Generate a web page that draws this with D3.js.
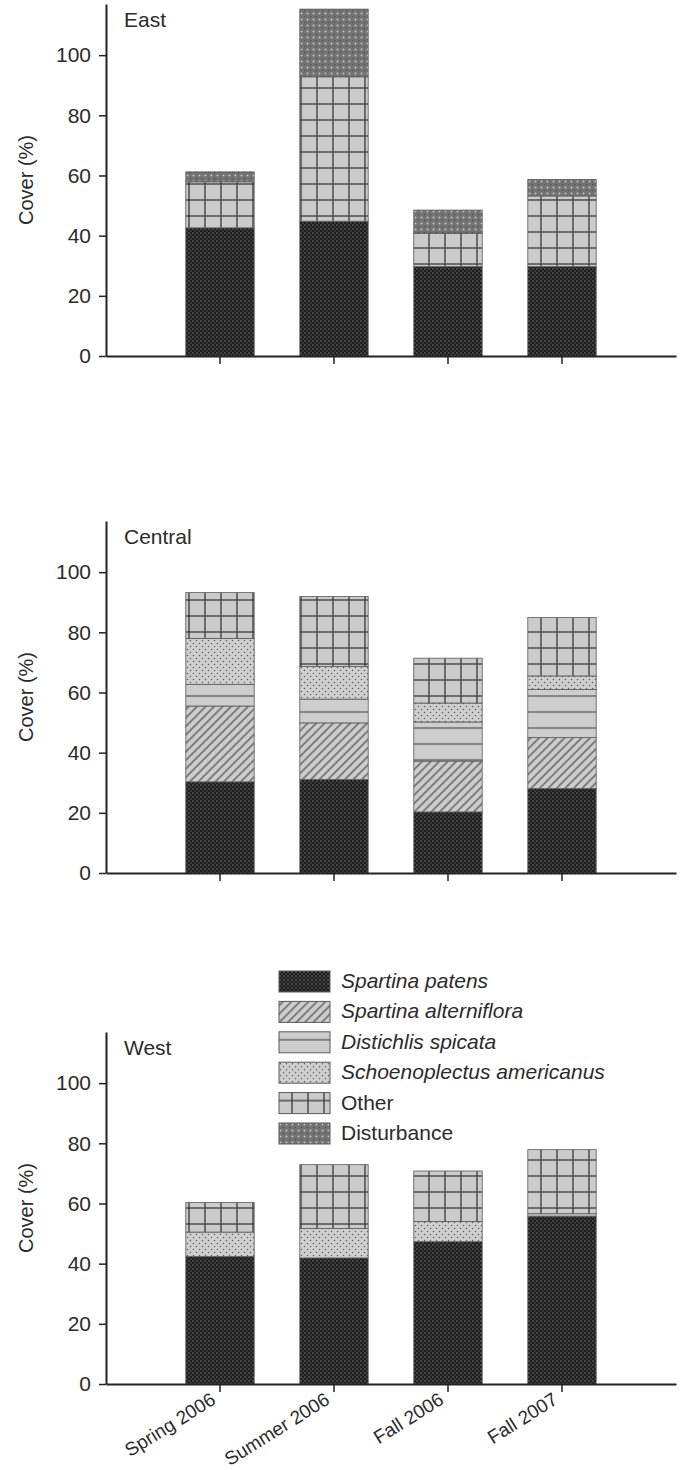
<!DOCTYPE html>
<html>
<head>
<meta charset="utf-8">
<script src="https://cdnjs.cloudflare.com/ajax/libs/d3/7.8.5/d3.min.js"></script>
<style>
  body { margin: 0; background: #fff; }
  text { font-family: "Liberation Sans Narrow", "Liberation Sans", Arial, sans-serif; fill: #2b2b2b; }
</style>
</head>
<body>
<div id="chart"></div>
<script>
// # Categories
const seasons = ['Spring 2006', 'Summer 2006', 'Fall 2006', 'Fall 2007']
const species = ['Spartina patens', 'Spartina alterniflora', 'Distichlis spicata',
                 'Schoenoplectus americanus', 'Other', 'Disturbance']
const italicSpecies = [true, true, true, true, false, false]
const yTicks = [0, 20, 40, 60, 80, 100]

// # Cover (%) per species (rows, same order as species) and season (columns).
const eastCover = [
    [42.6, 44.8, 29.7, 29.7],
    [0, 0, 0, 0],
    [0, 0, 0, 0],
    [0, 0, 0, 0],
    [15.3, 48.0, 11.1, 23.5],
    [3.3, 22.5, 7.7, 5.5]
]
const centralCover = [
    [30.3, 31.1, 20.3, 28.1],
    [25.2, 18.8, 16.9, 16.9],
    [7.2, 7.9, 13.0, 16.0],
    [15.3, 10.8, 6.3, 4.5],
    [15.2, 23.3, 14.9, 19.4],
    [0, 0, 0, 0]
]
const westCover = [
    [42.4, 41.9, 47.3, 55.8],
    [0, 0, 0, 0],
    [0, 0, 0, 0],
    [8.1, 9.8, 6.7, 0.8],
    [9.8, 21.2, 16.8, 21.3],
    [0, 0, 0, 0]
]

// # Panel settings
const width = 683
const height = 1470
const axisLeft = 106
const axisRight = 676
const yMax = 117
const panelHeight = 352
const panels = [
    {name: 'East', cover: eastCover, base: 356, labels: false},
    {name: 'Central', cover: centralCover, base: 873, labels: false},
    {name: 'West', cover: westCover, base: 1384, labels: true}
]
const fontSize = 21

const svg = d3.select('#chart')
    .append('svg')
    .attr('width', width)
    .attr('height', height)

// # Fill patterns, one per species.
const defs = svg.append('defs')
const patternIds = ['p-patens', 'p-alt', 'p-dist', 'p-schoeno', 'p-other', 'p-dist2']

const makePattern = (id, w, h) => defs.append('pattern')
    .attr('id', id)
    .attr('patternUnits', 'userSpaceOnUse')
    .attr('width', w)
    .attr('height', h)

let p = makePattern('p-patens', 4, 4)
p.append('rect').attr('width', 4).attr('height', 4).attr('fill', '#1d1d1d')
p.append('circle').attr('cx', 1).attr('cy', 1).attr('r', 0.7).attr('fill', '#8c8c8c')
p.append('circle').attr('cx', 3).attr('cy', 3).attr('r', 0.7).attr('fill', '#6a6a6a')

p = makePattern('p-alt', 6, 6).attr('patternTransform', 'rotate(45)')
p.append('rect').attr('width', 6).attr('height', 6).attr('fill', '#cdcdcd')
p.append('line').attr('x1', 3).attr('x2', 3).attr('y1', 0).attr('y2', 6)
    .attr('stroke', '#3c3c3c').attr('stroke-width', 1.1)

p = makePattern('p-dist', 10, 16)
p.append('rect').attr('width', 10).attr('height', 16).attr('fill', '#cdcdcd')
p.append('line').attr('x1', 0).attr('x2', 10).attr('y1', 8).attr('y2', 8)
    .attr('stroke', '#555').attr('stroke-width', 1.2)

p = makePattern('p-schoeno', 6, 6)
p.append('rect').attr('width', 6).attr('height', 6).attr('fill', '#cfcfcf')
p.append('circle').attr('cx', 1.5).attr('cy', 1.5).attr('r', 0.75).attr('fill', '#5a5a5a')
p.append('circle').attr('cx', 4.5).attr('cy', 4.5).attr('r', 0.75).attr('fill', '#5a5a5a')

p = makePattern('p-other', 16, 16)
p.append('rect').attr('width', 16).attr('height', 16).attr('fill', '#cbcbcb')
p.append('line').attr('x1', 13).attr('x2', 13).attr('y1', 0).attr('y2', 16)
    .attr('stroke', '#383838').attr('stroke-width', 1.3)
p.append('line').attr('x1', 0).attr('x2', 16).attr('y1', 8).attr('y2', 8)
    .attr('stroke', '#383838').attr('stroke-width', 1.3)

p = makePattern('p-dist2', 6, 6)
p.append('rect').attr('width', 6).attr('height', 6).attr('fill', '#737373')
p.append('circle').attr('cx', 1.5).attr('cy', 1.5).attr('r', 1).attr('fill', '#c4c4c4')
p.append('circle').attr('cx', 4.5).attr('cy', 4.5).attr('r', 0.7).attr('fill', '#4c4c4c')

// # Shared x scale.
const x = d3.scaleBand()
    .domain(seasons)
    .range([axisLeft, axisRight])
    .paddingInner(0.4)
    .paddingOuter(0.7)

// # Draws one site panel.
const drawPanel = (panel) => {
    const y = d3.scaleLinear()
        .domain([0, yMax])
        .range([panel.base, panel.base - panelHeight])

    const rows = seasons.map((s, j) => {
        const row = {season: s}
        species.forEach((sp, i) => { row[sp] = panel.cover[i][j] })
        return row
    })
    const stacked = d3.stack().keys(species)(rows)

    const g = svg.append('g').attr('class', 'panel')

    stacked.forEach((layer, i) => {
        g.append('g')
            .selectAll('rect')
            .data(layer.filter(d => d[1] - d[0] > 0))
            .enter().append('rect')
            .attr('x', d => x(d.data.season))
            .attr('width', x.bandwidth())
            .attr('y', d => y(d[1]))
            .attr('height', d => y(d[0]) - y(d[1]))
            .attr('fill', 'url(#' + patternIds[i] + ')')
            .attr('stroke', '#5a5a5a')
            .attr('stroke-width', 0.8)
    })

    // # Y axis.
    const ya = g.append('g')
        .attr('transform', 'translate(' + axisLeft + ',0)')
        .call(d3.axisLeft(y).tickValues(yTicks).tickSize(7).tickSizeOuter(0))
    ya.attr('font-family', null)
    ya.select('.domain').attr('stroke', '#222').attr('stroke-width', 2)
    ya.selectAll('.tick line').attr('stroke', '#222').attr('stroke-width', 1.5)
    ya.selectAll('.tick text')
        .attr('font-size', fontSize)
        .attr('x', -15)
        .attr('fill', '#2b2b2b')

    // # X axis.
    const xa = g.append('g')
        .attr('transform', 'translate(0,' + panel.base + ')')
        .call(d3.axisBottom(x).tickSize(8).tickSizeOuter(0))
    xa.attr('font-family', null)
    xa.select('.domain').attr('stroke', '#222').attr('stroke-width', 2)
    xa.selectAll('.tick line').attr('stroke', '#222').attr('stroke-width', 1.5)
    if (panel.labels) {
        xa.selectAll('.tick text')
            .attr('font-size', fontSize - 2)
            .attr('fill', '#2b2b2b')
            .attr('text-anchor', 'end')
            .attr('y', 0)
            .attr('dy', 0)
            .attr('transform', 'translate(-3,19) rotate(-32)')
    } else {
        xa.selectAll('.tick text').remove()
    }

    // # Y label.
    g.append('text')
        .attr('transform', 'translate(33,' + (panel.base - panelHeight / 2) + ') rotate(-90)')
        .attr('text-anchor', 'middle')
        .attr('font-size', fontSize - 1)
        .text('Cover (%)')

    // # Site name.
    g.append('text')
        .attr('x', 124)
        .attr('y', panel.base - panelHeight + 23)
        .attr('font-size', fontSize)
        .text(panel.name)
}

panels.forEach(drawPanel)

// # Legend.
const legendX = 279
const legendY = 971
const legendStep = 30.4
const legend = svg.append('g').attr('class', 'legend')
species.forEach((sp, i) => {
    const row = legend.append('g')
        .attr('transform', 'translate(' + legendX + ',' + (legendY + i * legendStep) + ')')
    row.append('rect')
        .attr('width', 51)
        .attr('height', 21)
        .attr('fill', 'url(#' + patternIds[i] + ')')
        .attr('stroke', '#5a5a5a')
        .attr('stroke-width', 1)
    row.append('text')
        .attr('x', 62)
        .attr('y', 17)
        .attr('font-size', fontSize)
        .attr('font-style', italicSpecies[i] ? 'italic' : 'normal')
        .text(sp)
})
</script>
</body>
</html>
